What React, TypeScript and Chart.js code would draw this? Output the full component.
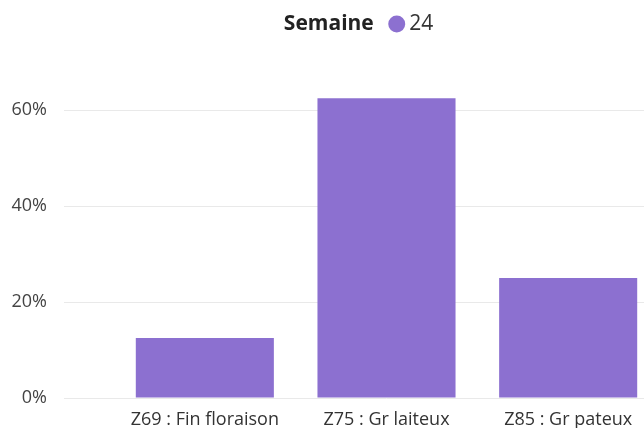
import React, { useEffect, useRef } from "react";
import { Chart, registerables } from "chart.js";

Chart.register(...registerables);

const categories = ["Z69 : Fin floraison", "Z75 : Gr laiteux", "Z85 : Gr pateux"];
const seriesLabel = "24";
const seriesValues = [12.5, 62.5, 25];
const legendTitle = "Semaine";
const yTickStep = 20;
const yMax = 74;

const FONT = "'Open Sans', 'Noto Sans', sans-serif";
const BAR_COLOR = "#8c70d0";

const inlineLegendTitle = {
  id: "inlineLegendTitle",
  afterLayout(chart: any, _args: any, opts: any) {
    const lg = chart.legend;
    if (!lg) return;
    const dx = opts.offsetX || 0;
    const dy = opts.offsetY || 0;
    lg.left += dx;
    lg.right += dx;
    lg.top += dy;
    lg.bottom += dy;
  },
  afterDraw(chart: any, _args: any, opts: any) {
    const lg = chart.legend;
    if (!lg || !lg.lineWidths) return;
    const lo = lg.options.labels;
    const pad = lo.padding;
    const fontSize = lo.font.size;
    const x0 = (lg.left + pad + lg.right - lg.lineWidths[0]) / 2;
    const y = lg.top + pad + fontSize / 2;
    const ctx = chart.ctx;
    ctx.save();
    ctx.font = `bold ${fontSize}px ${FONT}`;
    ctx.fillStyle = opts.color;
    ctx.textAlign = "right";
    ctx.textBaseline = "middle";
    ctx.fillText(opts.text, x0 - opts.gap, y);
    ctx.restore();
  },
};

export default function App() {
  const ref = useRef<HTMLCanvasElement | null>(null);

  useEffect(() => {
    if (!ref.current) return;
    const chart = new Chart(ref.current, {
      type: "bar",
      data: {
        labels: categories,
        datasets: [
          {
            label: seriesLabel,
            data: seriesValues,
            backgroundColor: BAR_COLOR,
            borderWidth: 0,
            categoryPercentage: 0.8,
            barPercentage: 0.95,
          },
        ],
      },
      options: {
        responsive: false,
        animation: false,
        layout: { padding: { left: 3, right: 0, top: 0, bottom: 0 } },
        plugins: {
          legend: {
            display: true,
            position: "top",
            labels: {
              usePointStyle: true,
              pointStyle: "circle",
              boxWidth: 4,
              boxHeight: 12,
              padding: 4,
              color: "#333333",
              font: { family: FONT, size: 21 },
            },
          },
          tooltip: { enabled: false },
          inlineLegendTitle: { text: legendTitle, color: "#222222", gap: 21, offsetX: 79, offsetY: 1.5 },
        } as any,
        scales: {
          x: {
            grid: { display: false, drawTicks: false },
            border: { display: false },
            ticks: {
              color: "#333333",
              padding: 11,
              maxRotation: 0,
              font: { family: FONT, size: 18 },
            },
            afterFit: (s: any) => {
              s.height = 31;
            },
          },
          y: {
            min: 0,
            max: yMax,
            border: { display: false },
            grid: { color: "#e9e9e9", tickLength: 50, drawTicks: true },
            ticks: {
              stepSize: yTickStep,
              includeBounds: false,
              padding: 17,
              color: "#444444",
              font: { family: FONT, size: 18 },
              callback: (v: any) => `${v}%`,
            },
            afterFit: (s: any) => {
              s.width = 103;
            },
          },
        },
      },
      plugins: [inlineLegendTitle],
    });
    return () => chart.destroy();
  }, []);

  return (
    <div style={{ position: "fixed", left: 0, top: 0, width: 644, height: 428, overflow: "hidden", background: "#fff" }}>
      <div style={{ position: "absolute", left: 8, top: 8, width: 651, height: 421 }}>
        <canvas ref={ref} width={651} height={421} style={{ display: "block", width: 651, height: 421 }} />
      </div>
    </div>
  );
}
